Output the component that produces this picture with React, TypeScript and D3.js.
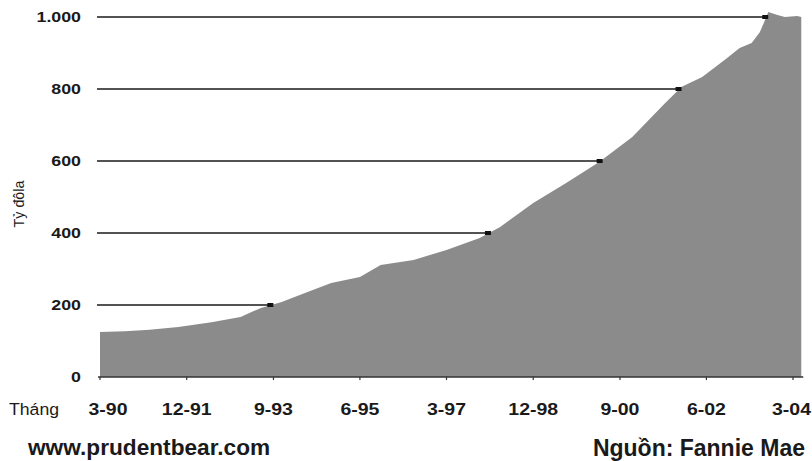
import React from "react";
import * as d3 from "d3";

const WIDTH = 812;
const HEIGHT = 461;
const MARGIN = { top: 17, right: 9, bottom: 84, left: 100 };

// Fannie Mae debt outstanding, billions USD
const months = [
  "1990-03", "1990-09", "1991-03", "1991-10", "1992-06", "1993-01", "1993-06",
  "1993-11", "1994-05", "1994-11", "1995-06", "1995-11", "1996-07", "1997-03",
  "1997-11", "1998-04", "1998-12", "1999-08", "2000-04", "2000-12", "2001-08",
  "2001-12", "2002-05", "2002-11", "2003-02", "2003-05", "2003-07", "2003-09",
  "2003-11", "2004-01", "2004-04", "2004-05",
];
const debt = [
  125, 127, 131, 139, 152, 167, 192, 208, 235, 261, 278, 311, 325, 353, 386,
  417, 483, 539, 597, 667, 761, 806, 833, 886, 914, 928, 958, 1014, 1006, 1000,
  1003, 1000,
];
const yTicks = [0, 200, 400, 600, 800, 1000];
const yTickLabels = ["0", "200", "400", "600", "800", "1.000"];
const xTicks = ["1990-03", "1991-12", "1993-09", "1995-06", "1997-03", "1998-12", "2000-09", "2002-06", "2004-03"];
const xTickLabels = ["3-90", "12-91", "9-93", "6-95", "3-97", "12-98", "9-00", "6-02", "3-04"];

const parse = d3.timeParse("%Y-%m");

type TxtProps = {
  x: number;
  y: number;
  sx?: number;
  anchor?: "start" | "middle" | "end";
  size: number;
  bold?: boolean;
  children: React.ReactNode;
};

// text stretched a little sideways, like the scanned original
const Txt = ({ x, y, sx = 1, anchor = "start", size, bold, children }: TxtProps) => (
  <text
    transform={`translate(${x},${y}) scale(${sx},1)`}
    textAnchor={anchor}
    fontSize={size}
    fontWeight={bold ? "bold" : "normal"}
    fontFamily="'Liberation Sans', Arial, sans-serif"
    fill="#1a1a1a"
  >
    {children}
  </text>
);

const App = () => {
  const data = months.map((m, i) => ({ date: parse(m) as Date, value: debt[i] }));
  const y0 = HEIGHT - MARGIN.bottom;

  const xScale = d3
    .scaleTime()
    .domain([parse("1990-03") as Date, parse("2004-03") as Date])
    .range([MARGIN.left, 793]);
  const yScale = d3.scaleLinear().domain([0, 1000]).range([y0, MARGIN.top]);

  const area = d3
    .area<{ date: Date; value: number }>()
    .x((d) => xScale(d.date))
    .y0(y0)
    .y1((d) => yScale(d.value));

  // where the series first reaches a level: the guide line stops there
  const crossing = (level: number) => {
    for (let i = 1; i < data.length; i++) {
      const a = data[i - 1];
      const b = data[i];
      if (a.value < level && b.value >= level) {
        const t = (level - a.value) / (b.value - a.value);
        return xScale(a.date) + t * (xScale(b.date) - xScale(a.date));
      }
    }
    return xScale(data[data.length - 1].date);
  };

  const xEnd = xScale(data[data.length - 1].date) + 2;

  return (
    <svg width={WIDTH} height={HEIGHT} style={{ position: "absolute", left: 0, top: 0, background: "#fff" }}>
      <path d={area(data) ?? ""} fill="#8b8b8b" />

      {yTicks.slice(1).map((t) => {
        const xc = crossing(t);
        return (
          <g key={t}>
            <line x1={97} x2={xc} y1={yScale(t)} y2={yScale(t)} stroke="#1a1a1a" strokeWidth={1.6} />
            <rect x={xc - 4} y={yScale(t) - 2} width={6} height={4} fill="#111" />
          </g>
        );
      })}

      <line x1={98} x2={xEnd} y1={y0} y2={y0} stroke="#333" strokeWidth={1.5} />
      {xTicks.map((t) => (
        <line key={t} x1={xScale(parse(t) as Date)} x2={xScale(parse(t) as Date)} y1={y0} y2={y0 + 3} stroke="#333" strokeWidth={1.2} />
      ))}

      {yTicks.map((t, i) => (
        <Txt key={t} x={81} y={yScale(t) + 5} sx={1.27} anchor="end" size={14} bold>
          {yTickLabels[i]}
        </Txt>
      ))}

      {xTicks.map((t, i) => {
        const last = i === xTicks.length - 1;
        const xp = xScale(parse(t) as Date) + (i === 0 ? 8 : 0);
        return (
          <Txt key={t} x={last ? 811 : xp} y={415} sx={1.22} anchor={last ? "end" : "middle"} size={16} bold>
            {xTickLabels[i]}
          </Txt>
        );
      })}

      <Txt x={9} y={415} sx={1.07} size={16.5}>Tháng</Txt>

      <g transform="translate(24,204) rotate(-90)">
        <Txt x={0} y={0} anchor="middle" size={14.3}>Tỷ đôla</Txt>
      </g>

      <Txt x={28} y={455} sx={1.03} size={22} bold>www.prudentbear.com</Txt>
      <Txt x={805} y={456} anchor="end" size={23} bold>Nguồn: Fannie Mae</Txt>
    </svg>
  );
};

export default App;
